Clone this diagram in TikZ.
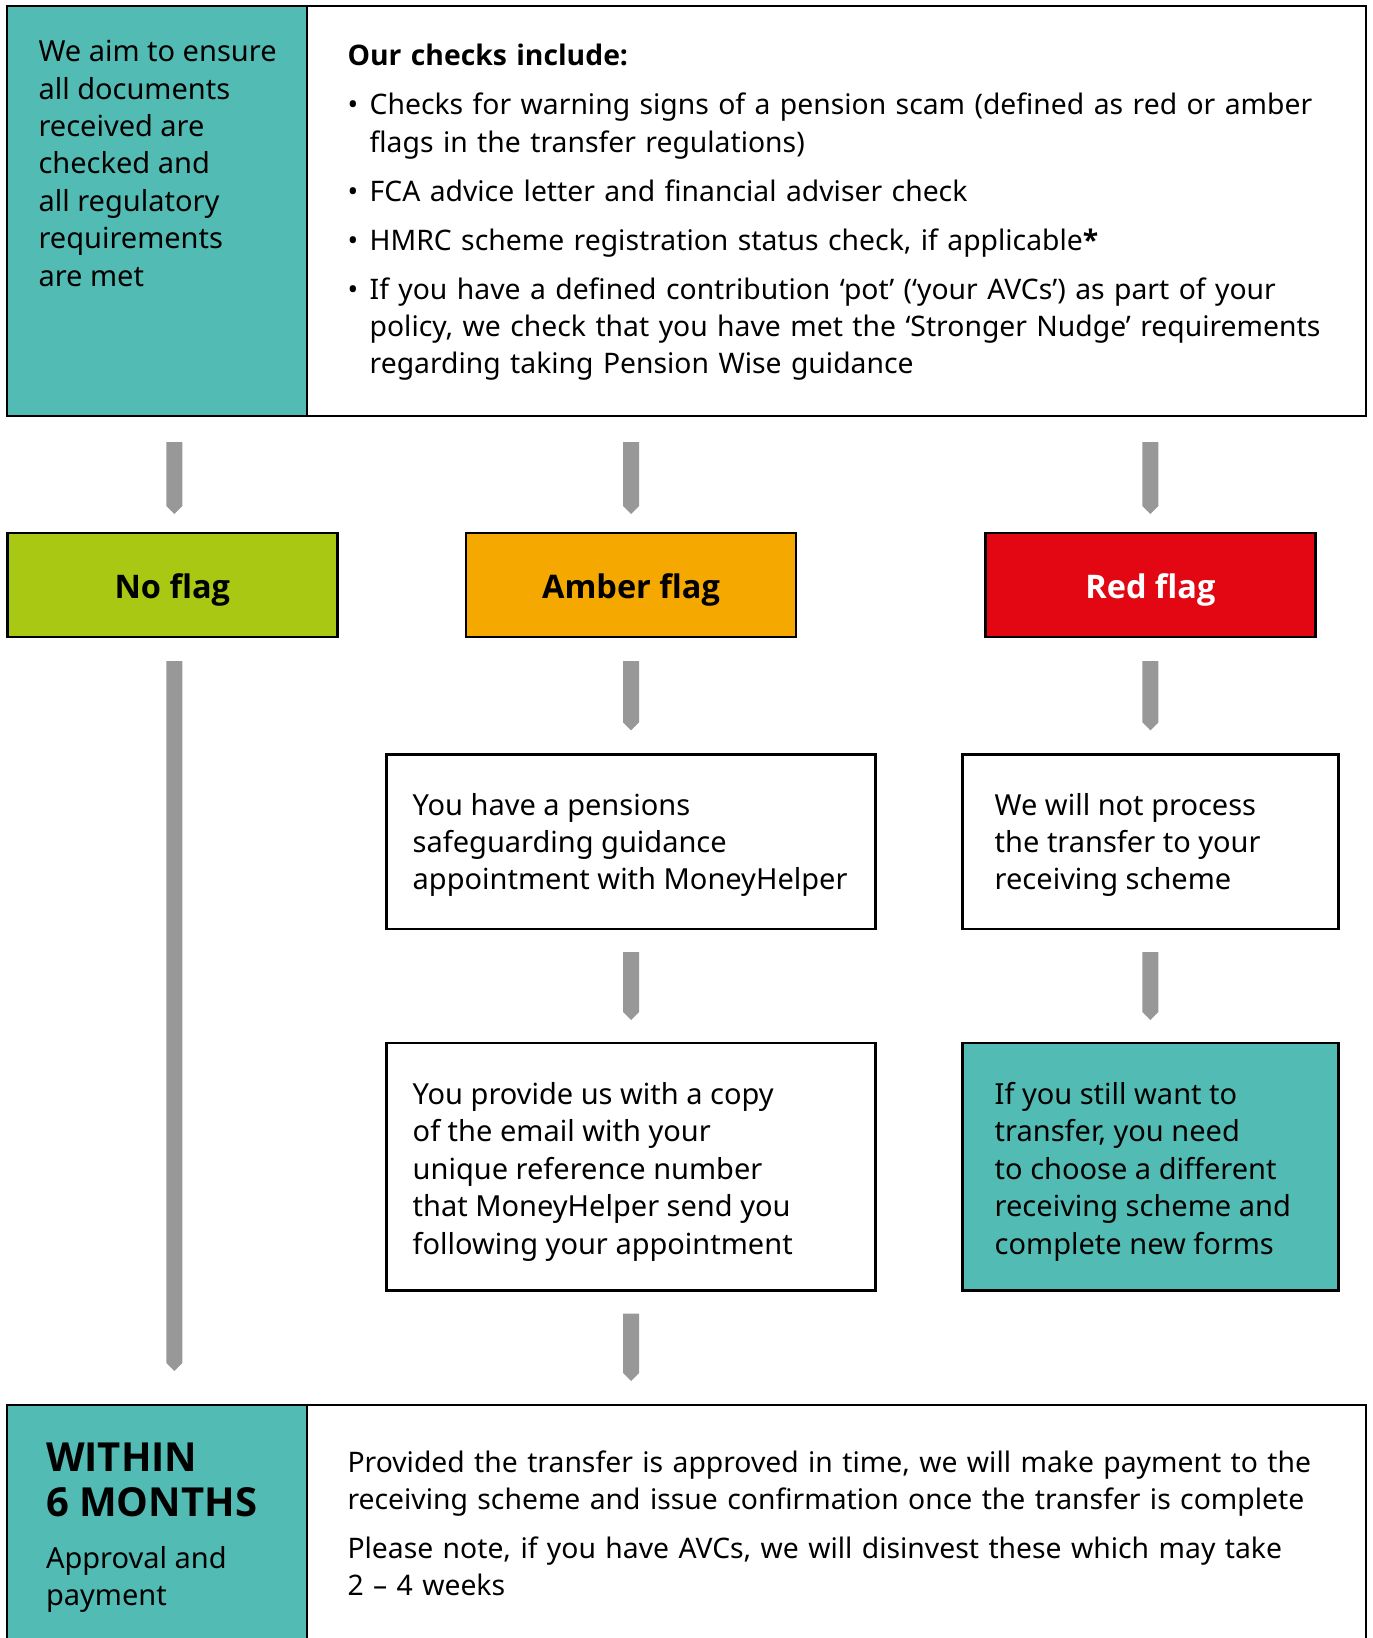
\documentclass[tikz,border=0pt]{standalone}
\usepackage{fontspec}
\setmainfont{Noto Sans}
\newfontfamily\osans{Open Sans}
\newcommand\obf[1]{{\osans\bfseries #1}}
\usetikzlibrary{calc}
\definecolor{teal1}{HTML}{52BBB3}
\definecolor{nfgreen}{HTML}{A8C813}
\definecolor{amberfl}{HTML}{F5A800}
\definecolor{redfl}{HTML}{E30613}
\definecolor{arrowgray}{HTML}{989898}
\newcommand\grarrow[2]{\fill[arrowgray] ($(#1)+(-8,0)$) -- ($(#1)+(8,0)$) -- ($(#1|-#2)+(8,-8)$) -- (#1|-#2) -- ($(#1|-#2)+(-8,-8)$) -- cycle;}
\newcommand\myitem{\par\vspace{11.6pt}\noindent\hangindent=22.2pt\hangafter=1\makebox[22.2pt][l]{•}}
\tikzset{
  box/.style={draw=black, line width=2.5pt, inner sep=0pt, outer sep=0pt, anchor=north west},
  flagbox/.style={box, font=\fontsize{32.5}{38}\osans\bfseries\selectfont, text height=26.6pt, text depth=0pt, minimum width=330pt, minimum height=104pt},
  txt/.style={inner sep=0pt, outer sep=0pt, anchor=north west, align=left, font=\fontsize{29}{37.4}\selectfont},
  para/.style={inner sep=0pt, outer sep=0pt, anchor=north west, text width=1010pt, font=\fontsize{28.3}{37.4}\selectfont},
  big/.style={inner sep=0pt, outer sep=0pt, anchor=north west, align=left, font=\fontsize{40}{44.3}\osans\bfseries\selectfont}
}
\begin{document}
\begin{tikzpicture}[x=1pt,y=-1pt]
\useasboundingbox (0,0) rectangle (1373,1638);
\clip (0,0) rectangle (1373,1638);
% top
\node[box, fill=teal1, minimum width=300pt, minimum height=410pt] (tl) at (7,6) {};
\node[box, fill=white, minimum width=1059pt, minimum height=410pt] (tr) at (307,6) {};
\node[txt] (tltext) at (38.5,35.5) {\strut We aim to ensure\\all documents\\received are\\checked and\\all regulatory\\requirements\\are met};
\node[para] (trtext) at (347.5,39.6) {\raggedright\noindent\strut\obf{Our checks include:}%
\myitem Checks for warning signs of a pension scam (defined as red or amber\newline flags in the transfer regulations)%
\myitem FCA advice letter and financial adviser check%
\myitem HMRC scheme registration status check, if applicable\obf{*}%
\myitem If you have a defined contribution ‘pot’ (‘your AVCs’) as part of your\newline policy, we check that you have met the ‘Stronger Nudge’ requirements\newline regarding taking Pension Wise guidance\par};
% flags
\node[flagbox, fill=nfgreen] (nf) at (7.3,533) {No flag};
\node[flagbox, fill=amberfl] (af) at (466,533) {Amber flag};
\node[flagbox, fill=redfl, text=white] (rf) at (985.4,533) {Red flag};
% amber column
\node[box, fill=white, minimum width=489pt, minimum height=174.6pt] (ab1) at (386.6,754.4) {};
\node[txt] (ab1t) at (412.7,789) {\strut You have a pensions\\safeguarding guidance\\appointment with MoneyHelper};
\node[box, fill=white, minimum width=489pt, minimum height=247.5pt] (ab2) at (386.6,1043) {};
\node[txt] (ab2t) at (412.7,1078.3) {\strut You provide us with a copy\\of the email with your\\unique reference number\\that MoneyHelper send you\\following your appointment};
% red column
\node[box, fill=white, minimum width=376pt, minimum height=174.6pt] (rb1) at (962.4,754.4) {};
\node[txt] (rb1t) at (994.7,789) {\strut We will not process\\the transfer to your\\receiving scheme};
\node[box, fill=teal1, minimum width=376pt, minimum height=247.5pt] (rb2) at (962.4,1043) {};
\node[txt] (rb2t) at (994.7,1078.3) {\strut If you still want to\\transfer, you need\\to choose a different\\receiving scheme and\\complete new forms};
% bottom
\node[box, fill=teal1, minimum width=300pt, minimum height=300pt] (bl) at (7,1405) {};
\node[box, fill=white, minimum width=1059pt, minimum height=300pt] (br) at (307,1405) {};
\node[big] (blt1) at (46,1440.7) {\strut WITHIN\\6 MONTHS};
\node[txt] (blt2) at (46,1541.8) {\strut Approval and\\payment};
\node[para] (brt) at (347.5,1446) {\raggedright\noindent\strut Provided the transfer is approved in time, we will make payment to the\newline receiving scheme and issue confirmation once the transfer is complete\par\vspace{11.6pt}\noindent Please note, if you have AVCs, we will disinvest these which may take\newline 2 – 4 weeks\par};
% arrows
\coordinate (a1s) at ($(tl.south -| nf.north)+(2,26)$);
\coordinate (a1e) at ($(nf.north)+(2,-19)$);
\coordinate (a2s) at ($(tr.south -| af.north)+(0,26)$);
\coordinate (a2e) at ($(af.north)+(0,-19)$);
\coordinate (a3s) at ($(tr.south -| rf.north)+(0,26)$);
\coordinate (a3e) at ($(rf.north)+(0,-19)$);
\coordinate (b1s) at ($(nf.south)+(2,24)$);
\coordinate (b1e) at ($(bl.north -| nf.south)+(2,-34)$);
\coordinate (b2s) at ($(af.south)+(0,24)$);
\coordinate (b2e) at ($(ab1.north)+(0,-24)$);
\coordinate (b3s) at ($(rf.south)+(0,24)$);
\coordinate (b3e) at ($(rb1.north)+(0,-24)$);
\coordinate (c2s) at ($(ab1.south)+(0,23)$);
\coordinate (c2e) at ($(ab2.north)+(0,-23)$);
\coordinate (c3s) at ($(rb1.south)+(0,23)$);
\coordinate (c3e) at ($(rb2.north)+(0,-23)$);
\coordinate (d2s) at ($(ab2.south)+(0,23)$);
\coordinate (d2e) at ($(br.north -| ab2.south)+(0,-24)$);
\grarrow{a1s}{a1e}
\grarrow{a2s}{a2e}
\grarrow{a3s}{a3e}
\grarrow{b1s}{b1e}
\grarrow{b2s}{b2e}
\grarrow{b3s}{b3e}
\grarrow{c2s}{c2e}
\grarrow{c3s}{c3e}
\grarrow{d2s}{d2e}
\end{tikzpicture}
\end{document}
